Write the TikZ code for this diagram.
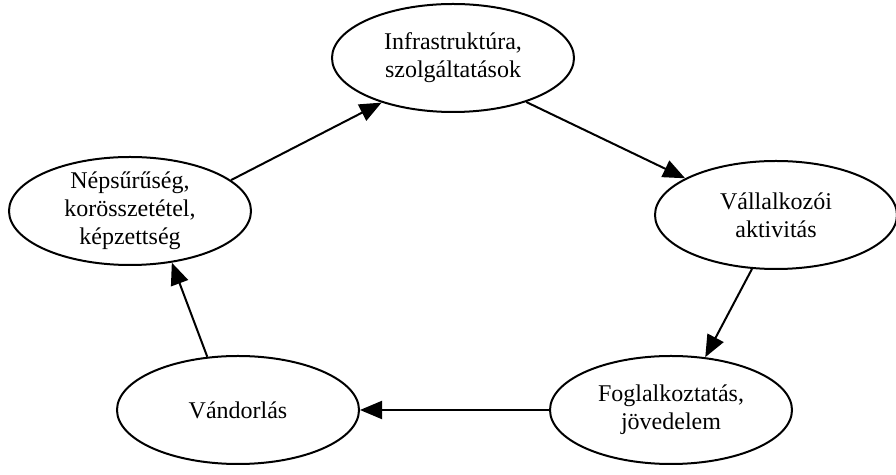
\documentclass[tikz,border=0pt]{standalone}
\usepackage{fontspec}
\setmainfont{Liberation Serif}
\usetikzlibrary{shapes.geometric,arrows.meta}
\tikzset{
  factor/.style={draw,ellipse,line width=1pt,minimum width=121pt,minimum height=54pt,
    inner xsep=0pt,inner ysep=-4pt,align=center,font=\fontsize{12}{14}\selectfont},
  flow/.style={line width=1pt,-{Triangle[length=11pt,width=9pt]}}
}
\begin{document}
\begin{tikzpicture}[x=0.5pt,y=-0.5pt]
\useasboundingbox (0,0) rectangle (896,475);

\node[factor] (infra) at (453,58) {Infrastruktúra,\\szolgáltatások};
\node[factor] (vall) at (776,215) {Vállalkozói\\aktivitás};
\node[factor] (fogl) at (671,410) {Foglalkoztatás,\\jövedelem};
\node[factor] (vand) at (238,410) {Vándorlás};
\node[factor] (nep) at (130,211) {Népsűrűség,\\korösszetétel,\\képzettség};

\draw[flow] (nep.17) -- (infra.212.6);
\draw[flow] (infra.329) -- (vall.158.8);
\draw[flow] (vall.246.8) -- (fogl.57.3);
\draw[flow] (fogl.west) -- (vand.east);
\draw[flow] (vand.120.3) -- (nep.309.8);
\end{tikzpicture}
\end{document}
